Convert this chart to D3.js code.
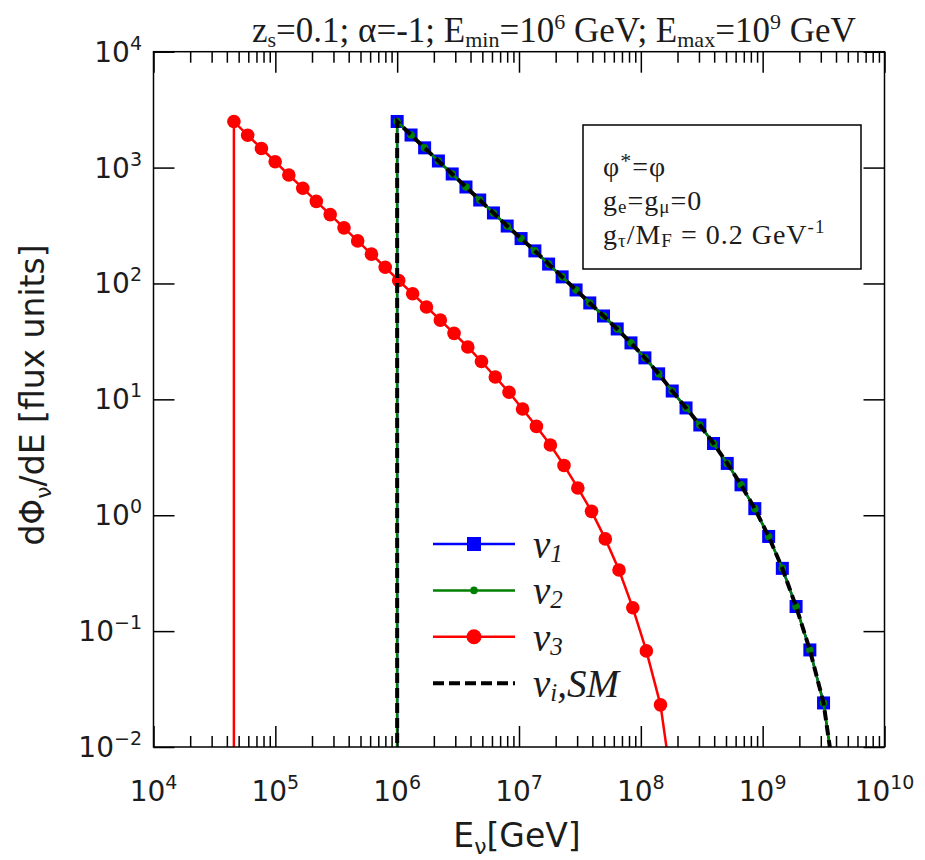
<!DOCTYPE html>
<html><head><meta charset="utf-8">
<script src="https://cdn.jsdelivr.net/npm/d3@7"></script>
<style>body{margin:0;background:#fff}svg{display:block}</style>
</head><body>
<svg id="chart" width="925" height="860"></svg>
<script>
// Neutrino energies [GeV] for ν1, ν2 and the SM curve (first entry opens the vertical edge)
const energyHigh = [1.00e6, 1.00e6, 1.30e6, 1.68e6, 2.18e6, 2.83e6, 3.67e6, 4.76e6, 6.17e6, 8.00e6,
  1.04e7, 1.35e7, 1.75e7, 2.26e7, 2.94e7, 3.81e7, 4.94e7, 6.40e7, 8.30e7, 1.08e8, 1.40e8, 1.81e8,
  2.35e8, 3.05e8, 3.95e8, 5.12e8, 6.64e8, 8.62e8, 1.12e9, 1.45e9, 1.88e9, 2.44e9, 3.16e9, 4.10e9];
// Energies [GeV] for ν3
const energyLow = [4.57e4, 4.57e4, 5.93e4, 7.69e4, 9.97e4, 1.29e5, 1.68e5, 2.17e5, 2.82e5, 3.66e5,
  4.74e5, 6.15e5, 7.98e5, 1.03e6, 1.34e6, 1.74e6, 2.26e6, 2.93e6, 3.80e6, 4.92e6, 6.39e6, 8.28e6,
  1.07e7, 1.39e7, 1.81e7, 2.34e7, 3.04e7, 3.94e7, 5.11e7, 6.62e7, 8.59e7, 1.11e8, 1.45e8, 1.87e8];

// dΦ/dE [flux units]
const fluxNu1 = [1e-3, 2500, 1910, 1480, 1140, 881, 680, 525, 406, 313, 244, 191, 147, 114, 87.9,
  67.9, 52.4, 40.5, 30.7, 22.8, 16.6, 11.8, 8.43, 6.01, 4.16, 2.80, 1.83, 1.14, 0.656, 0.348,
  0.163, 0.0688, 0.0240, 0.00350];
const fluxNu2 = [1e-3, 2500, 1910, 1480, 1140, 881, 680, 525, 406, 313, 244, 191, 147, 114, 87.9,
  67.9, 52.4, 40.5, 30.7, 22.8, 16.6, 11.8, 8.43, 6.01, 4.16, 2.80, 1.83, 1.14, 0.656, 0.348,
  0.163, 0.0688, 0.0240, 0.00350];
const fluxSM = [1e-3, 2500, 1910, 1480, 1140, 881, 680, 525, 406, 313, 244, 191, 147, 114, 87.9,
  67.9, 52.4, 40.5, 30.7, 22.8, 16.6, 11.8, 8.43, 6.01, 4.16, 2.80, 1.83, 1.14, 0.656, 0.348,
  0.163, 0.0688, 0.0240, 0.00350];
const fluxNu3 = [1e-3, 2500, 1900, 1461, 1124, 863, 664, 511, 393, 302, 233, 179, 138, 106, 81.5,
  62.7, 48.3, 37.1, 28.3, 21.2, 15.6, 11.5, 8.26, 5.84, 4.04, 2.69, 1.72, 1.08, 0.625, 0.337,
  0.159, 0.0675, 0.0231, 0.00350];

// Axis ticks and their exponents
const xMajor = [1e4, 1e5, 1e6, 1e7, 1e8, 1e9, 1e10];
const xExp = ["4", "5", "6", "7", "8", "9", "10"];
const yMajor = [1e-2, 1e-1, 1e0, 1e1, 1e2, 1e3, 1e4];
const yExp = ["\u22122", "\u22121", "0", "1", "2", "3", "4"];

const svg = d3.select("#chart");
const L = 153.5, R = 884.5, T = 51.7, B = 747;
const x = d3.scaleLog().domain([1e4, 1e10]).range([L, R]);
const y = d3.scaleLog().domain([1e-2, 1e4]).range([B, T]);
const ink = "#1c1c1c";
const sans = "'DejaVu Sans', sans-serif";
const serif = "'Liberation Serif', 'DejaVu Serif', serif";

svg.append("defs").append("clipPath").attr("id", "plotClip")
  .append("rect").attr("x", L).attr("y", T).attr("width", R - L).attr("height", B - T);

const plot = svg.append("g").attr("clip-path", "url(#plotClip)");
const line = d3.line().x(d => x(d[0])).y(d => y(d[1]));

function series(E, F) { return E.map((e, i) => [e, F[i]]); }

// ν1: blue squares
const s1 = series(energyHigh, fluxNu1);
plot.append("path").datum(s1).attr("d", line).attr("fill", "none")
  .attr("stroke", "#0000ff").attr("stroke-width", 2.5);
plot.selectAll(".sq").data(s1.slice(1)).join("rect")
  .attr("x", d => x(d[0]) - 6.5).attr("y", d => y(d[1]) - 6.5)
  .attr("width", 13).attr("height", 13).attr("fill", "#0000ff");

// ν2: green with small dots
const s2 = series(energyHigh, fluxNu2);
plot.append("path").datum(s2).attr("d", line).attr("fill", "none")
  .attr("stroke", "#008000").attr("stroke-width", 2.5);
plot.selectAll(".dot2").data(s2.slice(1)).join("circle")
  .attr("cx", d => x(d[0])).attr("cy", d => y(d[1])).attr("r", 3.8).attr("fill", "#008000");

// ν3: red circles
const s3 = series(energyLow, fluxNu3);
plot.append("path").datum(s3).attr("d", line).attr("fill", "none")
  .attr("stroke", "#ff0000").attr("stroke-width", 2.5);
plot.selectAll(".dot3").data(s3.slice(1)).join("circle")
  .attr("cx", d => x(d[0])).attr("cy", d => y(d[1])).attr("r", 6.8).attr("fill", "#ff0000");

// Standard-model curve: black dashed
plot.append("path").datum(series(energyHigh, fluxSM)).attr("d", line).attr("fill", "none")
  .attr("stroke", "#000").attr("stroke-width", 4).attr("stroke-dasharray", "10,5");

// Axes: inward ticks on all four sides
const xMinor = x.ticks().filter(v => !xMajor.some(m => Math.abs(m - v) / m < 1e-6));
function axisStyle(g) {
  g.select(".domain").remove();
  g.selectAll("line").attr("stroke", "#000").attr("stroke-width", 1.5);
  g.selectAll("text").remove();
}
svg.append("g").attr("transform", `translate(0,${B})`)
  .call(d3.axisBottom(x).tickValues(xMajor).tickSize(-21)).call(axisStyle);
svg.append("g").attr("transform", `translate(0,${B})`)
  .call(d3.axisBottom(x).tickValues(xMinor).tickSize(-11)).call(axisStyle);
svg.append("g").attr("transform", `translate(0,${T})`)
  .call(d3.axisTop(x).tickValues(xMajor).tickSize(-21)).call(axisStyle);
svg.append("g").attr("transform", `translate(0,${T})`)
  .call(d3.axisTop(x).tickValues(xMinor).tickSize(-11)).call(axisStyle);
svg.append("g").attr("transform", `translate(${L},0)`)
  .call(d3.axisLeft(y).tickValues(yMajor).tickSize(-21)).call(axisStyle);
svg.append("g").attr("transform", `translate(${R},0)`)
  .call(d3.axisRight(y).tickValues(yMajor).tickSize(-21)).call(axisStyle);

svg.append("rect").attr("x", L).attr("y", T).attr("width", R - L).attr("height", B - T)
  .attr("fill", "none").attr("stroke", "#000").attr("stroke-width", 1.5);

// Tick labels as 10^n
function powerLabel(g, exp, anchor) {
  const t = g.append("text").attr("font-family", sans).attr("fill", ink)
    .attr("font-size", 28).attr("text-anchor", anchor);
  t.append("tspan").text("10");
  t.append("tspan").attr("font-size", 19).attr("dy", -12).text(exp);
  return t;
}
xMajor.forEach((v, i) => {
  powerLabel(svg.append("g").attr("transform", `translate(${x(v)},801)`), xExp[i], "middle");
});
yMajor.forEach((v, i) => {
  powerLabel(svg.append("g").attr("transform", `translate(142,${y(v) + 10})`), yExp[i], "end");
});

// Axis titles
const xl = svg.append("text").attr("x", 517).attr("y", 847).attr("text-anchor", "middle")
  .attr("font-family", sans).attr("font-size", 33).attr("fill", ink);
xl.append("tspan").text("E");
xl.append("tspan").attr("font-size", 22).attr("dy", 7).text("\u03bd");
xl.append("tspan").attr("dy", -7).text("[GeV]");

const yl = svg.append("text").attr("transform", "translate(44,395) rotate(-90)")
  .attr("text-anchor", "middle").attr("font-family", sans).attr("font-size", 33).attr("fill", ink);
yl.append("tspan").text("d\u03a6");
yl.append("tspan").attr("font-size", 22).attr("dy", 7).text("\u03bd");
yl.append("tspan").attr("dy", -7).text("/dE [flux units]");

// Title
const tt = svg.append("text").attr("x", 252).attr("y", 42).attr("font-family", serif)
  .attr("font-size", 35).attr("fill", ink);
tt.append("tspan").text("z");
tt.append("tspan").attr("font-size", 22).attr("dy", 5).text("s");
tt.append("tspan").attr("dy", -5).text("=0.1; \u03b1=-1; E");
tt.append("tspan").attr("font-size", 22).attr("dy", 5).text("min");
tt.append("tspan").attr("dy", -5).text("=10");
tt.append("tspan").attr("font-size", 22).attr("dy", -13).text("6");
tt.append("tspan").attr("dy", 13).text(" GeV; E");
tt.append("tspan").attr("font-size", 22).attr("dy", 5).text("max");
tt.append("tspan").attr("dy", -5).text("=10");
tt.append("tspan").attr("font-size", 22).attr("dy", -13).text("9");
tt.append("tspan").attr("dy", 13).text(" GeV");

// Parameter box
svg.append("rect").attr("x", 583).attr("y", 125).attr("width", 278).attr("height", 144)
  .attr("fill", "#fff").attr("stroke", "#000").attr("stroke-width", 1.5);
const box = svg.append("g").attr("font-family", serif).attr("font-size", 28)
  .attr("letter-spacing", 1).attr("fill", ink);
const b1 = box.append("text").attr("x", 603).attr("y", 176);
b1.append("tspan").text("\u03c6");
b1.append("tspan").attr("font-size", 22).attr("dy", -8).text("*");
b1.append("tspan").attr("dy", 8).text("=\u03c6");
const b2 = box.append("text").attr("x", 603).attr("y", 210);
b2.append("tspan").text("g");
b2.append("tspan").attr("font-size", 19).attr("dy", 3).text("e");
b2.append("tspan").attr("dy", -3).text("=g");
b2.append("tspan").attr("font-size", 19).attr("dy", 3).text("\u03bc");
b2.append("tspan").attr("dy", -3).text("=0");
const b3 = box.append("text").attr("x", 603).attr("y", 244);
b3.append("tspan").text("g");
b3.append("tspan").attr("font-size", 19).attr("dy", 3).text("\u03c4");
b3.append("tspan").attr("dy", -3).text("/M");
b3.append("tspan").attr("font-size", 19).attr("dy", 3).text("F");
b3.append("tspan").attr("dy", -3).text(" = 0.2 GeV");
b3.append("tspan").attr("font-size", 19).attr("dy", -11).text("-1");

// Legend
const legendItems = [
  { color: "#0000ff", marker: "square", label: "\u03bd", sub: "1", rest: "" },
  { color: "#008000", marker: "point", label: "\u03bd", sub: "2", rest: "" },
  { color: "#ff0000", marker: "circle", label: "\u03bd", sub: "3", rest: "" },
  { color: "#000", marker: "dash", label: "\u03bd", sub: "i", rest: ",SM" }
];
const lg = svg.append("g");
legendItems.forEach((d, i) => {
  const yy = 544 + i * 46.4;
  const ln = lg.append("line").attr("x1", 433).attr("x2", 515).attr("y1", yy).attr("y2", yy)
    .attr("stroke", d.color).attr("stroke-width", d.marker === "dash" ? 4 : 2.5);
  if (d.marker === "dash") ln.attr("stroke-dasharray", "11,5");
  if (d.marker === "square") lg.append("rect").attr("x", 467).attr("y", yy - 7)
    .attr("width", 14).attr("height", 14).attr("fill", d.color);
  if (d.marker === "point") lg.append("circle").attr("cx", 474).attr("cy", yy).attr("r", 3.8).attr("fill", d.color);
  if (d.marker === "circle") lg.append("circle").attr("cx", 474).attr("cy", yy).attr("r", 7.5).attr("fill", d.color);
  const t = lg.append("text").attr("x", 533).attr("y", yy + 14).attr("font-family", serif)
    .attr("font-style", "italic").attr("font-size", 39).attr("fill", ink);
  t.append("tspan").text(d.label);
  t.append("tspan").attr("font-size", 25).attr("dy", 4).text(d.sub);
  if (d.rest) t.append("tspan").attr("dy", -4).text(d.rest);
});
</script>
</body></html>
